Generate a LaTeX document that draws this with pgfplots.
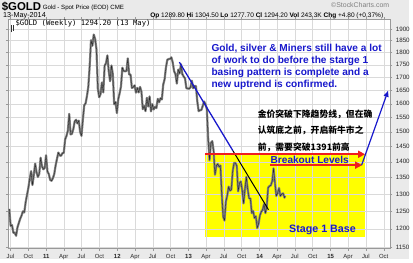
\documentclass[border=0pt]{standalone}
\usepackage{pgfplots}
\pgfplotsset{compat=1.18}
\usepackage{pgfplotstable}
\usepgfplotslibrary{dateplot}
\usetikzlibrary{arrows.meta}
\usepackage{fontspec}
\setmainfont{Liberation Sans}
\newfontfamily\cjk{Noto Sans CJK SC}
\newfontfamily\mono{DejaVu Sans Mono}
\definecolor{bg}{RGB}{234,234,234}
\definecolor{annoblue}{RGB}{24,24,204}
\definecolor{gridc}{RGB}{218,218,218}
\definecolor{barc}{RGB}{125,125,125}
\definecolor{arrred}{RGB}{240,30,30}
\definecolor{yel}{RGB}{255,255,0}

\pgfplotstableread{
date close
2010-06-25 1256
2010-07-02 1208
2010-07-09 1210
2010-07-16 1189
2010-07-23 1189
2010-07-30 1181
2010-08-06 1204
2010-08-13 1216
2010-08-20 1228
2010-08-27 1237
2010-09-03 1249
2010-09-10 1246
2010-09-17 1275
2010-09-24 1297
2010-10-01 1318
2010-10-08 1346
2010-10-15 1370
2010-10-22 1327
2010-10-29 1358
2010-11-05 1394
2010-11-12 1367
2010-11-19 1352
2010-11-26 1362
2010-12-03 1413
2010-12-10 1385
2010-12-17 1376
2010-12-24 1380
2010-12-31 1421
2011-01-07 1369
2011-01-14 1361
2011-01-21 1343
2011-01-28 1340
2011-02-04 1348
2011-02-11 1361
2011-02-18 1388
2011-02-25 1409
2011-03-04 1430
2011-03-11 1421
2011-03-18 1419
2011-03-25 1428
2011-04-01 1429
2011-04-08 1474
2011-04-15 1486
2011-04-22 1504
2011-04-29 1563
2011-05-06 1491
2011-05-13 1493
2011-05-20 1509
2011-05-27 1536
2011-06-03 1542
2011-06-10 1529
2011-06-17 1539
2011-06-24 1500
2011-07-01 1486
2011-07-08 1542
2011-07-15 1594
2011-07-22 1601
2011-07-29 1628
2011-08-05 1663
2011-08-12 1743
2011-08-19 1852
2011-08-26 1828
2011-09-02 1876
2011-09-09 1857
2011-09-16 1813
2011-09-23 1657
2011-09-30 1624
2011-10-07 1636
2011-10-14 1680
2011-10-21 1642
2011-10-28 1746
2011-11-04 1756
2011-11-11 1788
2011-11-18 1725
2011-11-25 1685
2011-12-02 1747
2011-12-09 1712
2011-12-16 1598
2011-12-23 1606
2011-12-30 1566
2012-01-06 1617
2012-01-13 1639
2012-01-20 1665
2012-01-27 1738
2012-02-03 1725
2012-02-10 1724
2012-02-17 1725
2012-02-24 1776
2012-03-02 1711
2012-03-09 1711
2012-03-16 1659
2012-03-23 1662
2012-03-30 1669
2012-04-06 1641
2012-04-13 1659
2012-04-20 1642
2012-04-27 1663
2012-05-04 1645
2012-05-11 1580
2012-05-18 1592
2012-05-25 1573
2012-06-01 1622
2012-06-08 1590
2012-06-15 1627
2012-06-22 1572
2012-06-29 1598
2012-07-06 1579
2012-07-13 1589
2012-07-20 1584
2012-07-27 1618
2012-08-03 1605
2012-08-10 1620
2012-08-17 1616
2012-08-24 1672
2012-08-31 1692
2012-09-07 1739
2012-09-14 1770
2012-09-21 1773
2012-09-28 1774
2012-10-05 1780
2012-10-12 1758
2012-10-19 1724
2012-10-26 1712
2012-11-02 1676
2012-11-09 1731
2012-11-16 1715
2012-11-23 1752
2012-11-30 1713
2012-12-07 1703
2012-12-14 1696
2012-12-21 1658
2012-12-28 1657
2013-01-04 1656
2013-01-11 1661
2013-01-18 1687
2013-01-25 1658
2013-02-01 1667
2013-02-08 1666
2013-02-15 1609
2013-02-22 1573
2013-03-01 1576
2013-03-08 1577
2013-03-15 1592
2013-03-22 1608
2013-03-29 1598
2013-04-05 1581
2013-04-12 1476
2013-04-19 1405
2013-04-26 1462
2013-05-03 1468
2013-05-10 1435
2013-05-17 1359
2013-05-24 1387
2013-05-31 1393
2013-06-07 1384
2013-06-14 1388
2013-06-21 1297
2013-06-28 1234
2013-07-05 1223
2013-07-12 1278
2013-07-19 1295
2013-07-26 1322
2013-08-02 1310
2013-08-09 1313
2013-08-16 1370
2013-08-23 1396
2013-08-30 1396
2013-09-06 1387
2013-09-13 1308
2013-09-20 1333
2013-09-27 1338
2013-10-04 1310
2013-10-11 1272
2013-10-18 1315
2013-10-25 1352
2013-11-01 1315
2013-11-08 1287
2013-11-15 1287
2013-11-22 1244
2013-11-29 1250
2013-12-06 1230
2013-12-13 1235
2013-12-20 1202
2013-12-27 1214
2014-01-03 1238
2014-01-10 1248
2014-01-17 1254
2014-01-24 1270
2014-01-31 1244
2014-02-07 1263
2014-02-14 1319
2014-02-21 1324
2014-02-28 1326
2014-03-07 1339
2014-03-14 1379
2014-03-21 1334
2014-03-28 1294
2014-04-04 1303
2014-04-11 1318
2014-04-18 1294
2014-04-25 1300
2014-05-02 1302
2014-05-09 1289
2014-05-13 1294
}\gold

\begin{document}
\begin{tikzpicture}
\begin{scope}[x=1pt,y=1pt]
\path[use as bounding box] (0,0) rectangle (413,261);
\fill[bg] (0,0) rectangle (413,261);
\fill[white] (8,10) rectangle (394,241.5);
\fill[yel] (207,22) rectangle (368,106);
\end{scope}
\begin{axis}[
  at={(8pt,10pt)}, anchor=south west,
  scale only axis, width=386pt, height=231.5pt,
  ymode=log,
  date coordinates in=x,
  xmin=2010-06-18, xmax=2015-11-04,
  ymin=1146.5, ymax=1943,
  xtick={2010-07-01,2010-10-01,2011-01-01,2011-04-01,2011-07-01,2011-10-01,2012-01-01,2012-04-01,2012-07-01,2012-10-01,2013-01-01,2013-04-01,2013-07-01,2013-10-01,2014-01-01,2014-04-01,2014-07-01,2014-10-01,2015-01-01,2015-04-01,2015-07-01,2015-10-01},
  xticklabels={Jul,Oct,\textbf{11},Apr,Jul,Oct,\textbf{12},Apr,Jul,Oct,\textbf{13},Apr,Jul,Oct,\textbf{14},Apr,Jul,Oct,\textbf{15},Apr,Jul,Oct},
  ytick={1150,1200,1250,1300,1350,1400,1450,1500,1550,1600,1650,1700,1750,1800,1850,1900},
  yticklabels={1150,1200,1250,1300,1350,1400,1450,1500,1550,1600,1650,1700,1750,1800,1850,1900},
  yticklabel pos=right,
  grid=major,
  major grid style={gridc, line width=0.4pt},
  axis line style={draw=gray!80, line width=0.5pt},
  tick style={gray!80, line width=0.4pt},
  tick align=outside, major tick length=2pt,
  xticklabel style={font=\fontsize{6}{7}\selectfont, text=black!85},
  yticklabel style={font=\fontsize{6.3}{7}\selectfont, text=black!85},
  clip=true,
]
\addplot[barc, line width=2.2pt, line join=round] table[x=date,y=close]{\gold};
\addplot[black!85, line width=0.35pt, line join=round] table[x=date,y=close]{\gold};
\end{axis}
\begin{scope}[x=1pt,y=1pt]
% trend lines
\draw[annoblue, line width=1.3pt] (181,198.3) -- (235,109);
\draw[black, line width=1pt] (235,109) -- (271,49.3);
% breakout arrows
\draw[arrred, line width=1.8pt, -{Triangle[length=7pt,width=7pt]}] (207,105.3) -- (368.5,105.3);
\draw[arrred, line width=1.8pt, -{Triangle[length=7pt,width=7pt]}] (273,94.3) -- (365.5,94.3);
\draw[annoblue, line width=1.2pt, -{Triangle[length=6pt,width=5pt]}] (365,94.3) -- (391.7,169.3);
% annotation texts
\node[anchor=base west, inner sep=0, font=\fontsize{10.2}{12}\bfseries\selectfont, text=annoblue] at (213.3,209.5) {Gold, silver \& Miners still have a lot};
\node[anchor=base west, inner sep=0, font=\fontsize{10.2}{12}\bfseries\selectfont, text=annoblue] at (213.3,197.1) {of work to do before the starge 1};
\node[anchor=base west, inner sep=0, font=\fontsize{10.2}{12}\bfseries\selectfont, text=annoblue] at (213.3,184.7) {basing pattern is complete and a};
\node[anchor=base west, inner sep=0, font=\fontsize{10.2}{12}\bfseries\selectfont, text=annoblue] at (213.3,172.3) {new uptrend is confirmed.};
\node[anchor=base west, inner sep=0, font=\cjk\bfseries\fontsize{8.9}{10}\selectfont] at (260,142.6) {金价突破下降趋势线，但在确};
\node[anchor=base west, inner sep=0, font=\cjk\bfseries\fontsize{8.9}{10}\selectfont] at (260,126) {认筑底之前，开启新牛市之};
\node[anchor=base west, inner sep=0, font=\cjk\bfseries\fontsize{8.9}{10}\selectfont] at (260,109) {前，需要突破1391前高};
\node[anchor=base west, inner sep=0, font=\fontsize{10.2}{12}\bfseries\selectfont, text=annoblue] at (273,95.5) {Breakout Levels};
\node[anchor=base west, inner sep=0, font=\fontsize{10.8}{12}\bfseries\selectfont, text=annoblue] at (291.7,26) {Stage 1 Base};
% header
\node[anchor=base west, inner sep=0, font=\fontsize{11.5}{12}\bfseries\selectfont] at (1.7,250.5) {\$GOLD};
\node[anchor=base west, inner sep=0, font=\fontsize{6.2}{7}\selectfont] at (43,251) {Gold - Spot Price (EOD) CME};
\node[anchor=base west, inner sep=0, font=\fontsize{7.3}{8}\selectfont] at (3,243.7) {13-May-2014};
\node[anchor=base east, inner sep=0, font=\fontsize{6.6}{8}\selectfont] at (387,243.7) {\textbf{Op} 1289.80 \textbf{Hi} 1304.50 \textbf{Lo} 1277.70 \textbf{Cl} 1294.20 \textbf{Vol} 243.3K \textbf{Chg} +4.80 (+0.37\%)};
\node[anchor=base east, inner sep=0, font=\fontsize{7}{8}\selectfont, text=gray] at (393,253) {©StockCharts.com};
\draw[black!80, line width=0.5pt] (11,228.5) -- (11,236) (13.5,229.5) -- (13.5,235.5);
\node[anchor=base west, inner sep=0, font=\mono\fontsize{7.3}{8}\selectfont] at (15.5,235) {\$GOLD (Weekly) 1294.20 (13 May)};
\end{scope}
\end{tikzpicture}
\end{document}
